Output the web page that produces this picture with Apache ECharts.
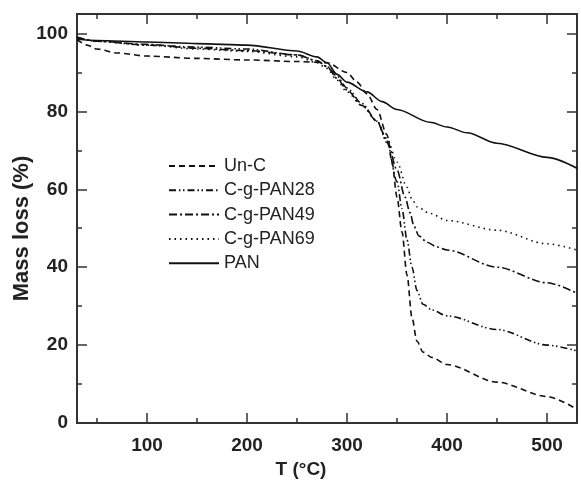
<!DOCTYPE html>
<html>
    <head>
        <title>TGA curves</title>
        <meta charset="UTF-8">
        <script type="text/javascript" src="https://cdn.jsdelivr.net/npm/echarts@6/dist/echarts.min.js"></script>
        <style>
            html, body { margin: 0; padding: 0; background: #fff; }
        </style>
    </head>
    <body>
        <div id="container" style="width:581px;height:485px"></div>
        <script type="text/javascript">
            // temperature (°C) / mass (%)
            var tUnC = [30, 40, 50, 70, 100, 150, 200, 250, 280, 300, 310, 320, 330, 340, 345, 350, 355, 360, 365, 370, 376, 385, 400, 450, 500, 530];
            var mUnC = [98.5, 97, 96, 95, 94.2, 93.6, 93.2, 92.8, 92.5, 90, 87.5, 84.5, 80.5, 74, 67, 58, 49, 38, 27, 21, 18.2, 16.8, 15, 10.5, 6.8, 3.5];

            var tP28 = [30, 50, 100, 150, 200, 250, 270, 280, 290, 300, 315, 330, 340, 350, 355, 360, 365, 370, 376, 385, 400, 450, 500, 530];
            var mP28 = [99, 98, 97, 96.5, 96, 94.5, 93, 91.5, 89, 86, 82, 77.5, 72, 62, 55, 47, 40, 34, 30.5, 29, 27.5, 24, 20, 18.5];

            var tP49 = [30, 50, 100, 150, 200, 250, 270, 280, 290, 300, 315, 330, 340, 350, 358, 363, 367, 372, 380, 390, 400, 450, 500, 530];
            var mP49 = [99, 98, 97.2, 96.2, 95.6, 94.5, 93, 91.5, 88.5, 85.5, 81.5, 77.5, 72.5, 65, 58, 54, 50.5, 48, 46.4, 45.2, 44.4, 40, 36, 33.3];

            var tP69 = [30, 50, 100, 150, 200, 250, 270, 280, 290, 300, 315, 330, 340, 350, 360, 365, 370, 383, 400, 450, 500, 530];
            var mP69 = [99, 98, 97, 96, 95.4, 94, 92.5, 91, 88, 85, 81.5, 77.5, 73, 67, 60.5, 57.5, 55.5, 53.8, 52, 49.5, 46, 44.4];

            var tPAN = [30, 50, 100, 150, 200, 250, 270, 280, 290, 300, 320, 335, 350, 383, 400, 420, 450, 500, 530];
            var mPAN = [98.5, 98.2, 97.8, 97.4, 97, 95.5, 94, 92.5, 89.5, 87.5, 85, 82.5, 80.5, 77.2, 76, 74.5, 71.8, 68.2, 65.4];

            var xMajor = [100, 200, 300, 400, 500];
            var xMinor = [50, 150, 250, 350, 450];
            var yMajor = [0, 20, 40, 60, 80, 100];
            var yMinor = [10, 30, 50, 70, 90];

            var names = ['Un-C', 'C-g-PAN28', 'C-g-PAN49', 'C-g-PAN69', 'PAN'];

            function pairs(t, m) {
                var out = [];
                for (var i = 0; i < t.length; i++) {
                    out.push([t[i], m[i]]);
                }
                return out;
            }

            var lineCol = '#333';
            var font = 'Liberation Sans, Arial, sans-serif';

            function xAx(pos, ticks, len, labels) {
                return {
                    type: 'value', min: 30, max: 530, position: pos,
                    axisLine: {show: true, onZero: false, lineStyle: {color: lineCol, width: 2}},
                    axisTick: {show: true, inside: true, length: len, customValues: ticks, lineStyle: {color: lineCol, width: 1.5}},
                    axisLabel: labels ? {show: true, customValues: ticks, margin: 13, color: '#222', fontSize: 19, fontWeight: 'bold', fontFamily: font} : {show: false},
                    splitLine: {show: false}
                };
            }
            function yAx(pos, ticks, len, labels) {
                return {
                    type: 'value', min: 0, max: 105, position: pos,
                    axisLine: {show: true, onZero: false, lineStyle: {color: lineCol, width: 2}},
                    axisTick: {show: true, inside: true, length: len, customValues: ticks, lineStyle: {color: lineCol, width: 1.5}},
                    axisLabel: labels ? {show: true, customValues: ticks, margin: 9, color: '#222', fontSize: 19, fontWeight: 'bold', fontFamily: font} : {show: false},
                    splitLine: {show: false}
                };
            }

            var xMain = xAx('bottom', xMajor, 10, true);
            xMain.name = 'T (\u00B0C)';
            xMain.nameLocation = 'middle';
            xMain.nameGap = 32;
            xMain.nameTextStyle = {color: '#222', fontSize: 19, fontWeight: 'bold', fontFamily: font, padding: [0, 52, 0, 0]};

            var yMain = yAx('left', yMajor, 10, true);
            yMain.name = 'Mass loss (%)';
            yMain.nameLocation = 'middle';
            yMain.nameGap = 44;
            yMain.nameMoveOverlap = false;
            yMain.nameTextStyle = {color: '#222', fontSize: 22, fontWeight: 'bold', fontFamily: font, padding: [0, 20, 0, 0]};

            var dashes = [
                [6, 4],
                [7, 3, 1.5, 2.5, 1.5, 3],
                [8, 3, 2, 3],
                [1.5, 4],
                'solid'
            ];
            var sets = [pairs(tUnC, mUnC), pairs(tP28, mP28), pairs(tP49, mP49), pairs(tP69, mP69), pairs(tPAN, mPAN)];

            var series = [];
            for (var i = 0; i < names.length; i++) {
                series.push({
                    name: names[i],
                    type: 'line',
                    xAxisIndex: 0,
                    yAxisIndex: 0,
                    data: sets[i],
                    symbol: 'none',
                    smooth: 0.3,
                    smoothMonotone: 'x',
                    lineStyle: {color: '#111', width: 1.6, type: dashes[i]},
                    itemStyle: {color: '#111'}
                });
            }

            var myChart = echarts.init(document.getElementById('container'));
            var option = {
                animation: false,
                backgroundColor: '#fff',
                grid: {left: 77, right: 4, top: 14, bottom: 62, outerBoundsMode: 'none'},
                legend: {
                    data: names,
                    orient: 'vertical',
                    left: 163,
                    top: 152,
                    itemWidth: 50,
                    itemHeight: 14,
                    itemGap: 6.3,
                    itemStyle: {opacity: 0},
                    lineStyle: {width: 2},
                    textStyle: {color: '#222', fontSize: 18, fontFamily: font}
                },
                xAxis: [xMain, xAx('bottom', xMinor, 5, false), xAx('top', xMajor, 10, false), xAx('top', xMinor, 5, false)],
                yAxis: [yMain, yAx('left', yMinor, 5, false), yAx('right', yMajor, 10, false), yAx('right', yMinor, 5, false)],
                series: series
            };
            myChart.setOption(option);
        </script>
    </body>
</html>
